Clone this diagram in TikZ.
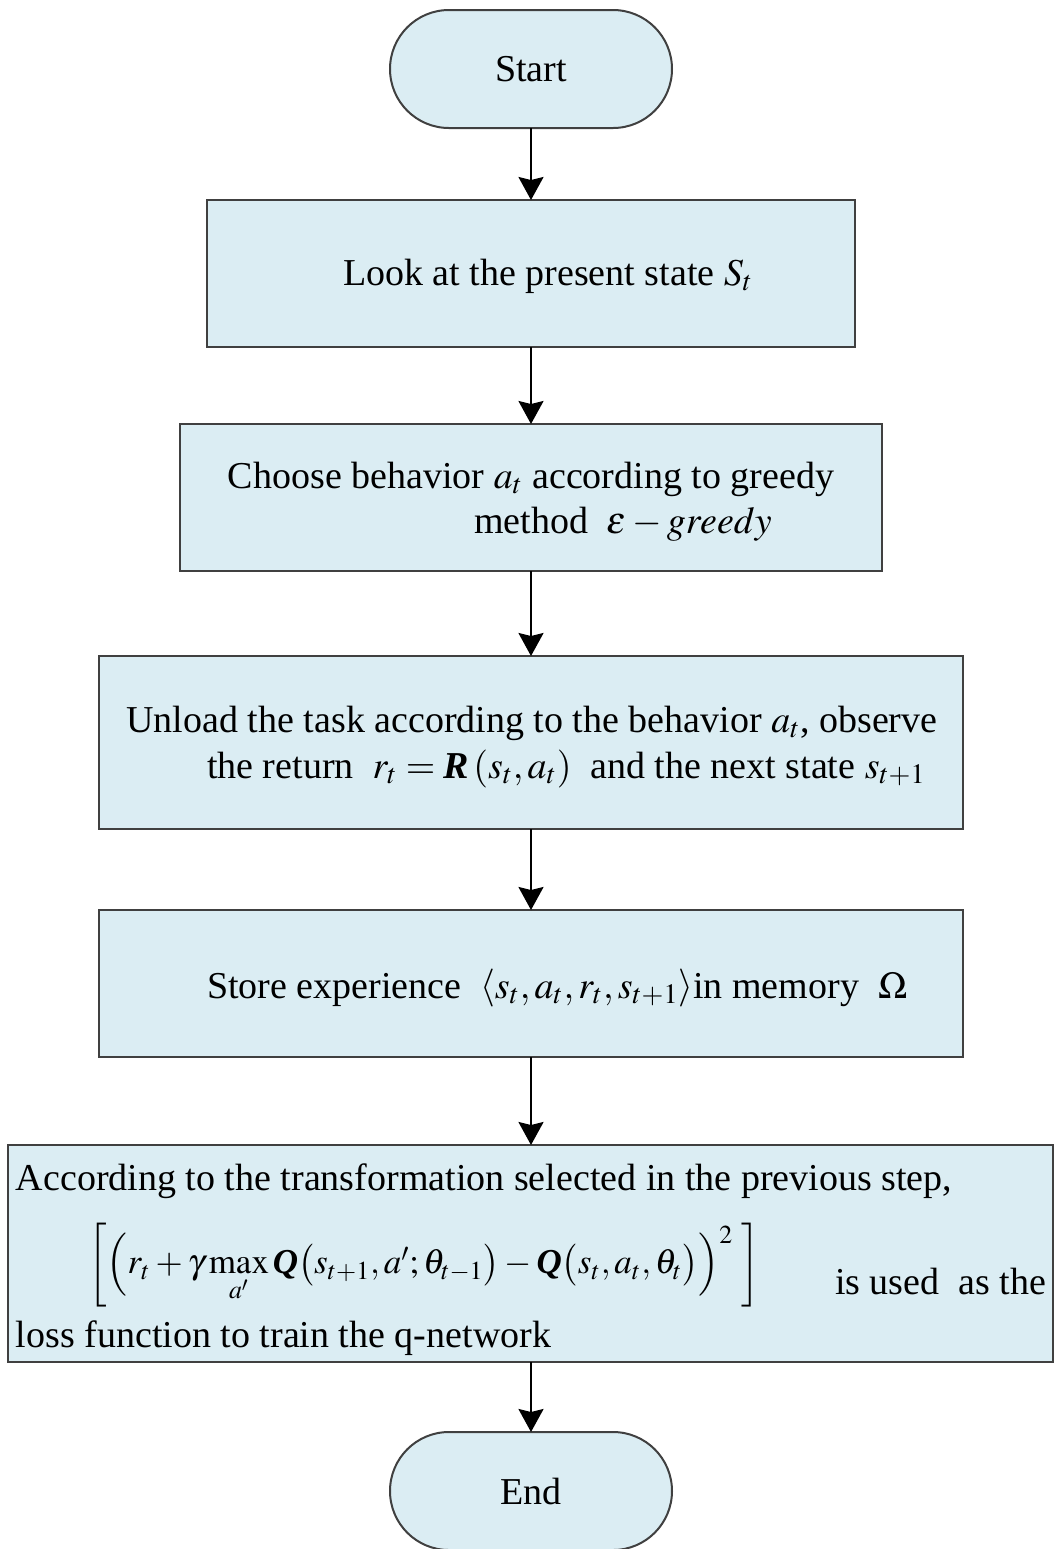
\documentclass[tikz,border=0pt]{standalone}
\usepackage{amsmath}
\usepackage{mathptmx}
\usepackage{fontspec}
\setmainfont{Liberation Serif}
\usetikzlibrary{arrows.meta}
\definecolor{boxfill}{RGB}{219,237,243}
\definecolor{boxline}{RGB}{64,64,64}
\newcommand{\bQ}{\text{\bfseries\itshape Q}}
\newcommand{\bR}{\text{\bfseries\itshape R}}
\begin{document}
\begin{tikzpicture}[x=0.5pt,y=-0.5pt,
  every node/.style={font=\fontsize{19}{22}\selectfont},
  term/.style={draw=boxline, line width=1pt, fill=boxfill, rounded corners=29.5pt,
    minimum width=141pt, minimum height=59pt, inner sep=0pt, outer sep=0pt},
  procbox/.style={draw=boxline, line width=1pt, fill=boxfill, inner sep=0pt, outer sep=0pt},
  lbl/.style={inner sep=0pt, outer sep=0pt, anchor=base},
  lblw/.style={inner sep=0pt, outer sep=0pt, anchor=base west},
  arr/.style={-{Stealth[length=11.5pt,width=12.5pt,inset=1.5pt]}, line width=1pt, black}]
\useasboundingbox (0,0) rectangle (1054,1549);

% boxes
\node[term] (start) at (531,69) {Start};
\node[procbox, minimum width=324pt, minimum height=73.5pt] (b1) at (531,273.5) {};
\node[procbox, minimum width=351pt, minimum height=73.5pt] (b2) at (531,497.5) {};
\node[procbox, minimum width=432pt, minimum height=86.5pt] (b3) at (531,742.5) {};
\node[procbox, minimum width=432pt, minimum height=73.5pt] (b4) at (531,983.5) {};
\node[procbox, minimum width=522.5pt, minimum height=108.5pt] (b5) at (530.5,1253.5) {};
\node[term] (end) at (531,1491) {End};

% texts
\node[lbl] (t1) at (548,285) {Look at the present state $S_t$};
\node[lbl] (t2a) at (531,488) {Choose behavior $a_t$ according to greedy};
\node[lblw] (t2b) at (474,533) {method \ $\varepsilon-greedy$};
\node[lbl] (t3a) at (532,732) {Unload the task according to the behavior $a_t$, observe};
\node[lblw] (t3b) at (207,778) {the return \ $r_t=\bR\left(s_t,a_t\right)$ \ and the next state $s_{t+1}$};
\node[lblw] (t4) at (207,998) {Store experience \ $\left\langle s_t,a_t,r_t,s_{t+1}\right\rangle$in memory \ $\Omega$};
\node[lblw] (t5a) at (16,1190) {According to the transformation selected in the previous step,};
\node[inner sep=0pt, anchor=west, font=\fontsize{17.5}{20}\selectfont] (t5f) at (88,1265)
  {$\bigg[\Big(r_t+\gamma\mathop{\max}\limits_{a'}\bQ\big(s_{t+1},a';\theta_{t-1}\big)-\bQ\big(s_t,a_t,\theta_t\big)\Big)^{2}\;\bigg]$};
\node[lblw] (t5c) at (835,1294) {is used \ as the};
\node[lblw] (t5d) at (16,1347) {loss function to train the q-network};

% connectors
\draw[arr] (start) -- (b1);
\draw[arr] (b1) -- (b2);
\draw[arr] (b2) -- (b3);
\draw[arr] (b3) -- (b4);
\draw[arr] (b4) -- (b5.north -| b4.south);
\draw[arr] (b5.south -| end.north) -- (end);
\end{tikzpicture}
\end{document}
